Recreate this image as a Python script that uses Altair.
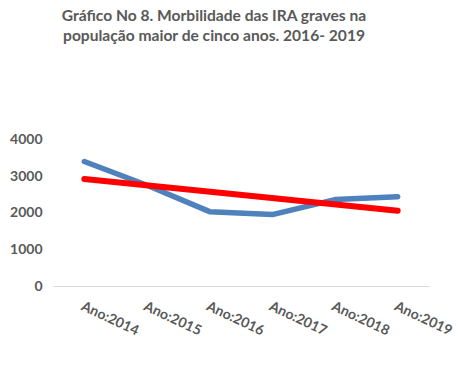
import altair as alt
import pandas as pd

years = [2014, 2015, 2016, 2017, 2018, 2019]
labels = ["Ano:2014", "Ano:2015", "Ano:2016", "Ano:2017", "Ano:2018", "Ano:2019"]
values = [3400, 2750, 2030, 1950, 2360, 2440]
title_lines = ["Gráfico No 8. Morbilidade das IRA graves na",
               "população maior de cinco anos. 2016- 2019"]

df = pd.DataFrame({"year": years, "value": values})

label_expr = "[" + ",".join("'%s'" % l for l in labels) + "][datum.value - %d]" % years[0]

FONT = "Lato"
GRAY = "#595959"

x = alt.X("year:Q",
          scale=alt.Scale(domain=[years[0] - 0.5, years[-1] + 0.5], nice=False, zero=False),
          axis=alt.Axis(values=years, labelExpr=label_expr, title=None, grid=False,
                        ticks=False, domain=True, domainColor="#d9d9d9", domainWidth=1,
                        labelAngle=25, labelAlign="left", labelBaseline="top",
                        labelPadding=13, labelFont=FONT, labelFontSize=14,
                        labelFontWeight="bold", labelColor=GRAY, labelOverlap=False))
y = alt.Y("value:Q",
          scale=alt.Scale(domain=[0, 4000], nice=False),
          axis=alt.Axis(values=[0, 1000, 2000, 3000, 4000], format="d", title=None, grid=False,
                        ticks=False, domain=False, labelPadding=11, labelFont=FONT,
                        labelFontSize=14, labelFontWeight="bold", labelColor=GRAY))

base = alt.Chart(df)
blue = base.mark_line(color="#4f81bd", strokeWidth=5.5, strokeCap="round",
                      strokeJoin="round").encode(x=x, y=y)
red = base.transform_regression("year", "value").mark_line(
    color="#ff0000", strokeWidth=6, strokeCap="round").encode(x=x, y=y)

chart = alt.layer(blue, red).properties(
    width=376, height=146.5,
    title=alt.TitleParams(title_lines, anchor="middle", frame="group", dx=-27,
                          offset=88, font=FONT, fontSize=15.6, fontWeight="bold",
                          color=GRAY, lineHeight=20),
    autosize=alt.AutoSizeParams(type="none"),
    padding={"left": 45, "top": 131.5, "right": 27, "bottom": 81},
).configure_view(stroke=None)

chart.save("out.html", embed_options={"renderer": "svg", "actions": False})
